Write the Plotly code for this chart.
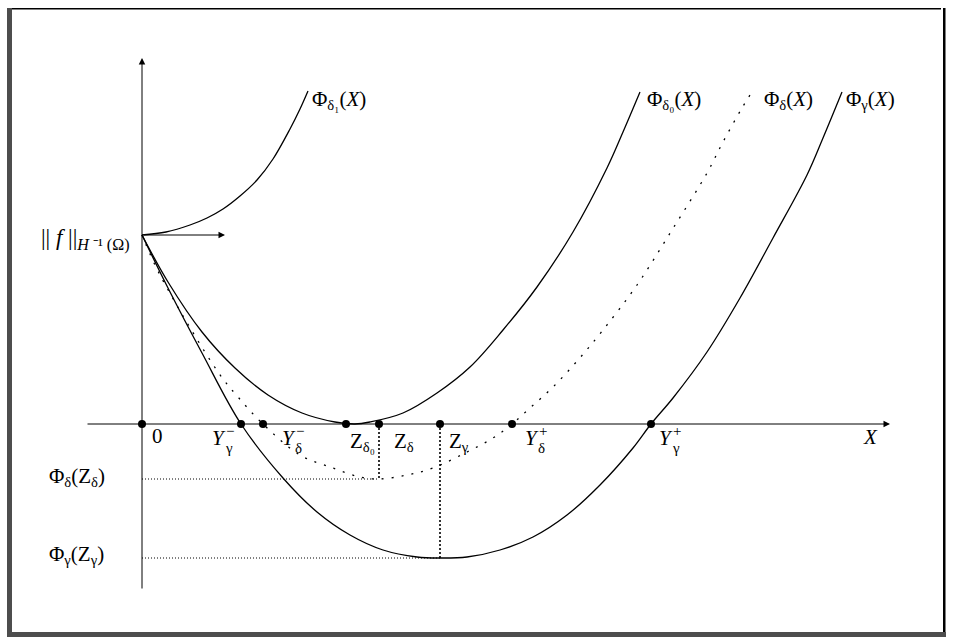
import plotly.graph_objects as go

# ---------------- data (origin at the axes crossing) ----------------
f_norm = 189  # ||f||_{H^-1(Omega)}

phi_d1_x = [0, 24, 48, 65, 81, 98, 115, 131, 148, 158, 166]
phi_d1_y = [189, 192, 199, 206, 215, 228, 244, 265, 295, 315, 333]

phi_d0_x = [0, 26, 60, 93, 126, 160, 193, 213, 228, 261, 295, 328, 361, 395, 431, 465, 481, 498]
phi_d0_y = [189, 142, 92, 56, 29, 11, 2, 0, 2, 11, 31, 57, 94, 137, 192, 256, 292, 332]

phi_g_x = [0, 26, 60, 99, 141, 175, 208, 241, 275, 298, 325, 358, 391, 425, 458, 491, 509, 531, 565, 598, 631, 665, 681, 700]
phi_g_y = [189, 136, 71, 0, -54, -88, -111, -126, -133, -134, -133, -126, -113, -91, -61, -24, 0, 26, 72, 126, 186, 249, 286, 332]

phi_d_x = [0, 18, 76, 96, 121, 158, 191, 218, 237, 265, 291, 325, 351, 370, 388, 411, 436, 461, 495, 530, 565, 581, 600, 610]
phi_d_y = [189, 149, 52, 27, 0, -31, -44, -53, -55, -51, -44, -28, -14, 0, 16, 37, 64, 94, 139, 194, 251, 282, 316, 332]

# marked points on the X axis
pt_names = ["0", "Y_g-", "Y_d-", "Z_d0", "Z_d", "Z_g", "Y_d+", "Y_g+"]
pt_x = [0, 99, 121, 204, 237, 298, 370, 509]

Z_delta, Phi_delta_min = 237, -55
Z_gamma, Phi_gamma_min = 298, -134

x_axis = [-56, 748]
y_axis = [-166, 366]

# ---------------- figure ----------------
W, H = 955, 642
OX, OY = 142, 424  # pixel of origin
FONT = "Liberation Serif"
FS = 21

fig = go.Figure()
solid = dict(color="black", width=1.3)

fig.add_trace(go.Scatter(x=phi_d1_x, y=phi_d1_y, mode="lines", line=dict(shape="spline", **solid)))
fig.add_trace(go.Scatter(x=phi_d0_x, y=phi_d0_y, mode="lines", line=dict(shape="spline", **solid)))
fig.add_trace(go.Scatter(x=phi_g_x, y=phi_g_y, mode="lines", line=dict(shape="spline", **solid)))
fig.add_trace(go.Scatter(x=phi_d_x, y=phi_d_y, mode="lines",
                         line=dict(shape="spline", color="black", width=1.3, dash="2px,8px")))

# dotted guide lines
fig.add_trace(go.Scatter(x=[0, Z_delta], y=[Phi_delta_min, Phi_delta_min], mode="lines",
                         line=dict(color="black", width=1, dash="1px,2px")))
fig.add_trace(go.Scatter(x=[0, Z_gamma], y=[Phi_gamma_min, Phi_gamma_min], mode="lines",
                         line=dict(color="black", width=1, dash="1px,2px")))
fig.add_trace(go.Scatter(x=[Z_delta, Z_delta], y=[0, Phi_delta_min], mode="lines",
                         line=dict(color="black", width=1.6, dash="2px,2px")))
fig.add_trace(go.Scatter(x=[Z_gamma, Z_gamma], y=[0, Phi_gamma_min], mode="lines",
                         line=dict(color="black", width=1.6, dash="2px,2px")))

# points on the axis
fig.add_trace(go.Scatter(x=pt_x, y=[0] * len(pt_x), mode="markers",
                         marker=dict(color="black", size=8)))

ann = []
def arrow(x0, y0, x1, y1):
    ann.append(dict(x=x1, y=y1, ax=x0, ay=y0, xref="x", yref="y", axref="x", ayref="y",
                    text="", showarrow=True, arrowhead=2, arrowsize=1.3, arrowwidth=1,
                    arrowcolor="black", standoff=0, startstandoff=0))

arrow(x_axis[0], 0, x_axis[1], 0)
arrow(0, y_axis[0], 0, y_axis[1])
arrow(0, f_norm, 83, f_norm)

def txt(x, y, s, xanchor="left", size=FS, yanchor="middle"):
    ann.append(dict(x=x, y=y, xref="x", yref="y", text=s, showarrow=False,
                    xanchor=xanchor, yanchor=yanchor,
                    font=dict(family=FONT, size=size, color="black")))

# curve labels
txt(168, 324, "Φ<sub>δ₁</sub>(<i>X</i>)")
txt(503, 324, "Φ<sub>δ₀</sub>(<i>X</i>)")
txt(620, 324, "Φ<sub>δ</sub>(<i>X</i>)")
txt(702, 324, "Φ<sub>γ</sub>(<i>X</i>)")

# left labels
txt(-10, 185, "|| <i>f</i> ||<sub><i>H</i> ⁻¹ (Ω)</sub>", xanchor="right", size=23)
txt(-95, -53, "Φ<sub>δ</sub>(Z<sub>δ</sub>)")
txt(-95, -131, "Φ<sub>γ</sub>(Z<sub>γ</sub>)")

# axis labels
txt(15, -12, "0", xanchor="center")
txt(728, -13, "<i>X</i>", xanchor="center")
txt(206, -18, "Z<sub>δ₀</sub>")
txt(250, -18, "Z<sub>δ</sub>")
txt(305, -18, "Z<sub>γ</sub>")

def ylab(x, sup, sub):
    txt(x, -14, "<i>Y</i>")
    txt(x + 14, -7, sup, size=15)
    txt(x + 13, -24, sub, size=15)

ylab(68, "−", "γ")
ylab(138, "−", "δ")
ylab(381, "+", "δ")
ylab(515, "+", "γ")

# frame (pixel -> paper)
def px(x): return x / W
def py(y): return 1 - y / H
shapes = [
    dict(type="rect", xref="paper", yref="paper", x0=px(7), x1=px(12), y0=py(637), y1=py(8),
         fillcolor="#4d4d4d", line=dict(width=0)),
    dict(type="rect", xref="paper", yref="paper", x0=px(7), x1=px(946), y0=py(637), y1=py(632),
         fillcolor="#4d4d4d", line=dict(width=0)),
    dict(type="rect", xref="paper", yref="paper", x0=px(12), x1=px(941), y0=py(9.6), y1=py(8),
         fillcolor="black", line=dict(width=0)),
    dict(type="rect", xref="paper", yref="paper", x0=px(943), x1=px(945.5), y0=py(632), y1=py(8),
         fillcolor="black", line=dict(width=0)),
]

fig.update_layout(
    width=W, height=H, margin=dict(l=0, r=0, t=0, b=0),
    paper_bgcolor="white", plot_bgcolor="white", showlegend=False,
    xaxis=dict(range=[-OX, W - OX], visible=False, fixedrange=True),
    yaxis=dict(range=[OY - H, OY], visible=False, fixedrange=True),
    annotations=ann, shapes=shapes,
)

fig.write_html("out.html", config={"displayModeBar": False},
               post_script="document.body.style.margin='0';document.body.style.padding='0';")
